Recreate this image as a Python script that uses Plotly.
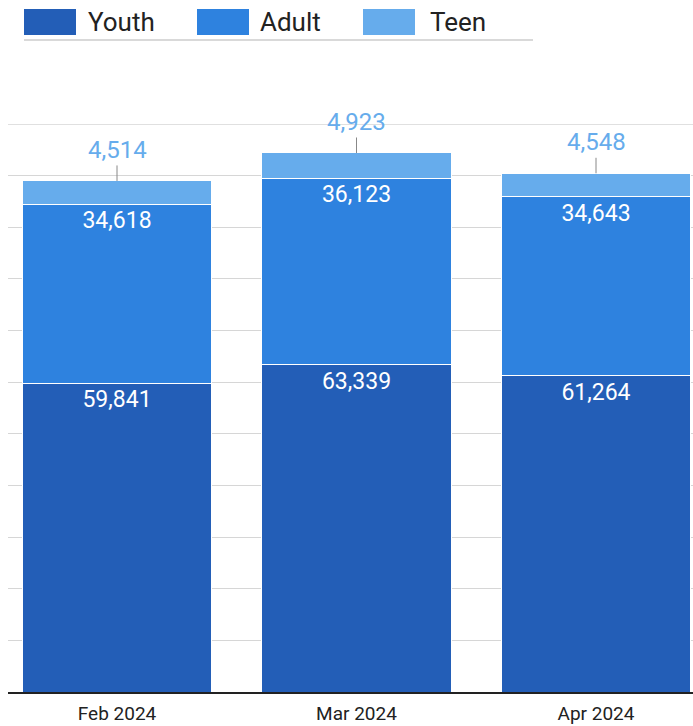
import plotly.graph_objects as go

months = ["Feb 2024", "Mar 2024", "Apr 2024"]
series_names = ["Youth", "Adult", "Teen"]
youth = [59841, 63339, 61264]
adult = [34618, 36123, 34643]
teen = [4514, 4923, 4548]
colors = ["#235EB7", "#2E82DF", "#66ACEC"]
y_max = 110000
grid_step = 10000

W, H = 693, 726
ML, MR, MT, MB = 8, 0, 124, 34
PW, PH = W - ML - MR, H - MT - MB


def px_x(x):
    return (x - ML) / PW


def px_y(y):
    return (H - MB - y) / PH


fig = go.Figure()
for name, vals, col, show_text in [
    (series_names[0], youth, colors[0], True),
    (series_names[1], adult, colors[1], True),
    (series_names[2], teen, colors[2], False),
]:
    fig.add_trace(go.Bar(
        x=months, y=vals, name=name,
        marker=dict(color=col, line=dict(color="white", width=1)),
        width=0.793,
        text=[f"{v:,}" for v in vals] if show_text else None,
        textposition="inside" if show_text else "none",
        insidetextanchor="end",
        textangle=0,
        textfont=dict(color="white", size=23, family="Roboto"),
        hoverinfo="skip",
        showlegend=False,
    ))

totals = [a + b + c for a, b, c in zip(youth, adult, teen)]
for m, tot, tv in zip(months, totals, teen):
    fig.add_annotation(
        x=m, y=tot, xref="x", yref="y",
        text=f"{tv:,}", showarrow=True, arrowhead=0, arrowwidth=1,
        arrowcolor="#888888", ax=0, ay=-31, standoff=0,
        font=dict(color=colors[2], size=24, family="Roboto"),
    )

# top gridline (plotly omits grid at the range edge)
fig.add_shape(type="line", xref="paper", yref="y", x0=0, x1=1,
              y0=y_max, y1=y_max, layer="below",
              line=dict(color="#d6d6d6", width=1.5))

# custom legend
sw_x = [24, 197, 363]
tx_x = [86, 258, 428]
for name, col, sx, tx in zip(series_names, colors, sw_x, tx_x):
    fig.add_shape(type="rect", xref="paper", yref="paper",
                  x0=px_x(sx), x1=px_x(sx + 52), y0=px_y(35), y1=px_y(9),
                  fillcolor=col, line=dict(width=0))
    fig.add_annotation(xref="paper", yref="paper", x=px_x(tx), y=px_y(22),
                       xanchor="left", yanchor="middle", showarrow=False,
                       text=name, font=dict(size=26, color="#222222", family="Roboto"))
fig.add_shape(type="line", xref="paper", yref="paper",
              x0=px_x(24), x1=px_x(533), y0=px_y(40), y1=px_y(40),
              line=dict(color="#cccccc", width=1.5))

fig.update_layout(
    barmode="stack",
    width=W, height=H,
    margin=dict(l=ML, r=MR, t=MT, b=MB),
    paper_bgcolor="white", plot_bgcolor="white",
    font=dict(family="Roboto", color="#222222"),
    xaxis=dict(range=[-0.4551, 2.405], showline=True, linecolor="#222222",
               linewidth=1.5, showgrid=False, ticks="", ticklabelstandoff=3,
               tickfont=dict(size=19, color="#222222", family="Roboto")),
    yaxis=dict(range=[0, y_max], tickvals=list(range(grid_step, y_max, grid_step)),
               showticklabels=False,
               gridcolor="#d6d6d6", gridwidth=1, zeroline=False, showline=False),
)

fig.write_html("out.html")
